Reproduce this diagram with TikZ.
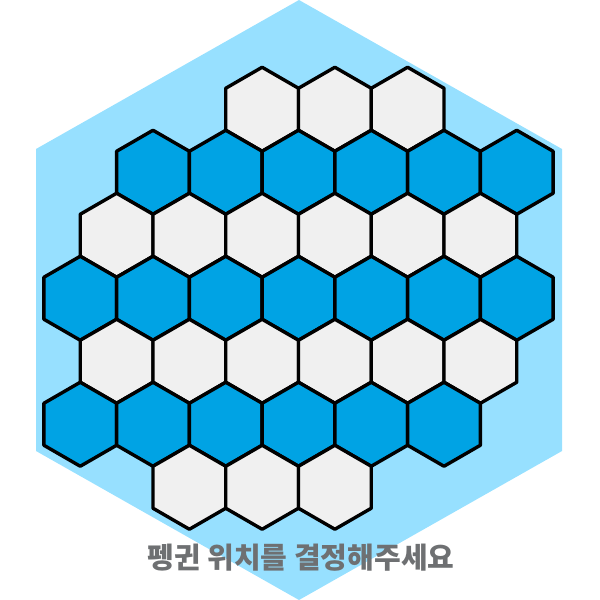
\documentclass[tikz,border=0pt]{standalone}
\usepackage{fontspec}
\newfontfamily\kr{Noto Sans CJK KR}
\usetikzlibrary{shapes.geometric}
\definecolor{bgblue}{RGB}{151,224,255}
\definecolor{tileblue}{RGB}{0,163,228}
\definecolor{tilewhite}{RGB}{240,240,240}
\definecolor{textgray}{RGB}{110,112,114}
\tikzset{
  hextile/.style={regular polygon, regular polygon sides=6, shape border rotate=30,
    minimum size=84pt, inner sep=0pt, outer sep=0pt, draw=black, line width=3.4pt, line join=round},
  tilew/.style={hextile, fill=tilewhite},
  tileb/.style={hextile, fill=tileblue},
  caption/.style={font=\kr\bfseries\fontsize{29}{34}\selectfont, text=textgray, inner sep=0pt}
}
\begin{document}
\begin{tikzpicture}[x=1pt,y=-1pt]
\useasboundingbox (0,0) rectangle (600,600);
% background hexagon
\fill[bgblue] (299,0) -- (562,149) -- (562,451) -- (299,600) -- (36,451) -- (36,149) -- cycle;
% tiles
\foreach \r/\st/\xs in {1/tilew/{-0.5,0.5,1.5},
                         2/tileb/{-2,-1,0,1,2,3},
                         3/tilew/{-2.5,-1.5,-0.5,0.5,1.5,2.5},
                         4/tileb/{-3,-2,-1,0,1,2,3},
                         5/tilew/{-2.5,-1.5,-0.5,0.5,1.5,2.5},
                         6/tileb/{-3,-2,-1,0,1,2},
                         7/tilew/{-1.5,-0.5,0.5}}{
  \foreach \k [count=\i] in \xs {
    \node[\st] (t\r-\i) at ({298.5+\k*72.75},{298.25+(\r-4)*63}) {};
  }
}
\node[caption] (title) at (301,558) {펭귄 위치를 결정해주세요};
\end{tikzpicture}
\end{document}
